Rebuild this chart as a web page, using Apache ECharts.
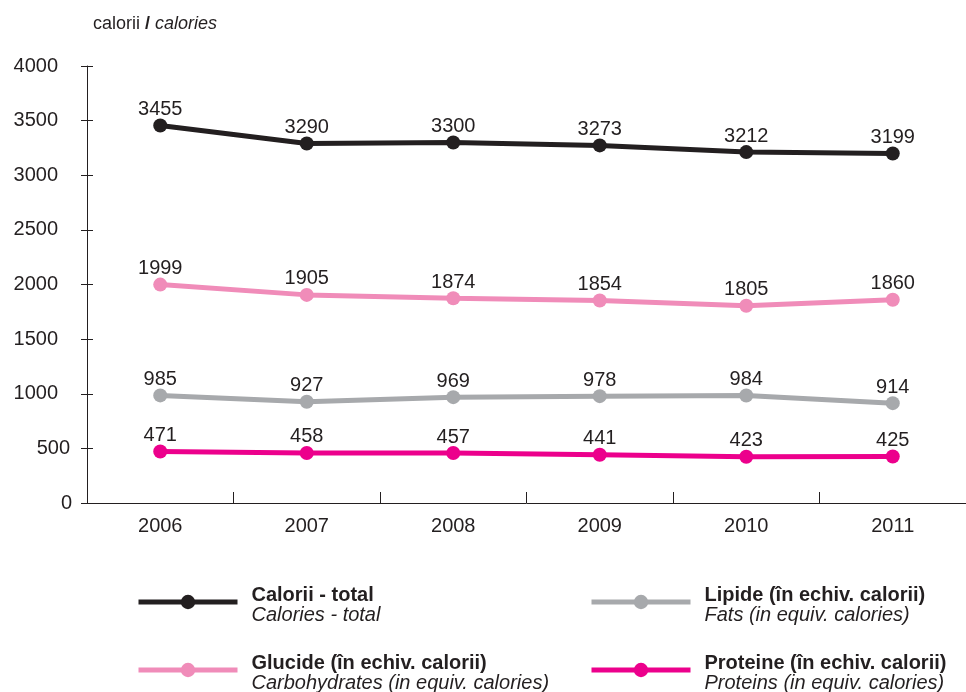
<!DOCTYPE html>
<html>
<head>
<meta charset="utf-8">
<script src="https://cdn.jsdelivr.net/npm/echarts@6/dist/echarts.min.js"></script>
<style>
  html, body { margin: 0; padding: 0; background: #fff; }
  #chart { width: 966px; height: 692px; }
</style>
</head>
<body>
<div id="chart"></div>
<script>
// years on the x axis
const years = ['2006', '2007', '2008', '2009', '2010', '2011'];

// values (calories)
const totalCalories = [3455, 3290, 3300, 3273, 3212, 3199];
const carbohydrates = [1999, 1905, 1874, 1854, 1805, 1860];
const fats = [985, 927, 969, 978, 984, 914];
const proteins = [471, 458, 457, 441, 423, 425];

// legend texts: romanian (bold) / english (italic)
const namesRo = ['Calorii - total', 'Glucide (în echiv. calorii)', 'Lipide (în echiv. calorii)', 'Proteine (în echiv. calorii)'];
const namesEn = ['Calories - total', 'Carbohydrates (in equiv. calories)', 'Fats (in equiv. calories)', 'Proteins (in equiv. calories)'];

const colors = ['#231f20', '#f08cb9', '#a7a9ac', '#ec008c'];
const seriesData = [totalCalories, carbohydrates, fats, proteins];

const FONT = '"Liberation Sans", Arial, sans-serif';
const TXT = '#231f20';

var myChart = echarts.init(document.getElementById('chart'), null, { renderer: 'canvas' });

// one legend per entry so each can sit where the original puts it
const legendPos = [
  { left: 131, top: 580 },
  { left: 131, top: 648 },
  { left: 584, top: 580 },
  { left: 584, top: 648 }
];
const legends = namesRo.map(function(name, i) {
  return {
    data: [name],
    left: legendPos[i].left,
    top: legendPos[i].top,
    itemWidth: 99,
    itemHeight: 18,
    itemGap: 0,
    selectedMode: false,
    lineStyle: { width: 5 },
    formatter: function(n) {
      return '{b|' + n + '}\n{i|' + namesEn[i] + '}';
    },
    textStyle: {
      fontFamily: FONT,
      padding: [6, 0, 0, 9],
      rich: {
        b: { fontFamily: FONT, fontSize: 20, fontWeight: 'bold', color: TXT, lineHeight: 20 },
        i: { fontFamily: FONT, fontSize: 20, fontStyle: 'italic', color: TXT, lineHeight: 20 }
      }
    }
  };
});

var option = {
  backgroundColor: '#ffffff',
  animation: false,
  textStyle: { fontFamily: FONT },
  title: {
    text: '{n|calorii }{s|/}{i| calories}',
    left: 88,
    top: 10,
    textStyle: {
      fontWeight: 'normal',
      rich: {
        n: { fontFamily: FONT, fontSize: 18, fontWeight: 'normal', color: TXT },
        s: { fontFamily: FONT, fontSize: 18, fontWeight: 'bold', color: TXT },
        i: { fontFamily: FONT, fontSize: 18, fontWeight: 'normal', fontStyle: 'italic', color: TXT }
      }
    }
  },
  legend: legends,
  grid: { left: 87, right: -1, top: 66, bottom: 189, containLabel: false },
  xAxis: {
    type: 'category',
    data: years,
    boundaryGap: true,
    axisLine: { lineStyle: { color: TXT, width: 1 } },
    axisTick: { show: true, inside: true, length: 11, lineStyle: { color: TXT } },
    axisLabel: { color: TXT, fontFamily: FONT, fontSize: 20, margin: 13 },
    splitLine: { show: false }
  },
  yAxis: [
    {
      type: 'value',
      min: 0,
      max: 4000,
      interval: 500,
      axisLine: { show: true, lineStyle: { color: TXT, width: 1 } },
      axisTick: { show: true, length: 6, lineStyle: { color: TXT } },
      splitLine: { show: false },
      axisLabel: {
        color: TXT,
        fontFamily: FONT,
        fontSize: 20,
        margin: 15,
        formatter: function(v) {
          if (v === 0) return '{z|0}';
          if (v === 500) return '{m|500}';
          return '{f|' + v + '}';
        },
        rich: {
          z: { fontFamily: FONT, fontSize: 20, color: TXT },
          m: { fontFamily: FONT, fontSize: 20, color: TXT, padding: [0, 2, 0, 0] },
          f: { fontFamily: FONT, fontSize: 20, color: TXT, padding: [0, 14, 0, 0] }
        }
      }
    },
    {
      // second copy of the axis only to draw the inner half of the ticks
      type: 'value',
      min: 0,
      max: 4000,
      interval: 500,
      position: 'left',
      axisLine: { show: false },
      axisTick: { show: true, inside: true, length: 6, lineStyle: { color: TXT } },
      axisLabel: { show: false },
      splitLine: { show: false }
    }
  ],
  series: seriesData.map(function(d, i) {
    return {
      name: namesRo[i],
      type: 'line',
      data: d,
      symbol: 'circle',
      symbolSize: 14,
      color: colors[i],
      lineStyle: { width: 5, color: colors[i] },
      itemStyle: { color: colors[i] },
      label: {
        show: true,
        position: 'top',
        distance: -1,
        color: TXT,
        fontFamily: FONT,
        fontSize: 20
      },
      emphasis: { disabled: true }
    };
  })
};

myChart.setOption(option);
</script>
</body>
</html>
